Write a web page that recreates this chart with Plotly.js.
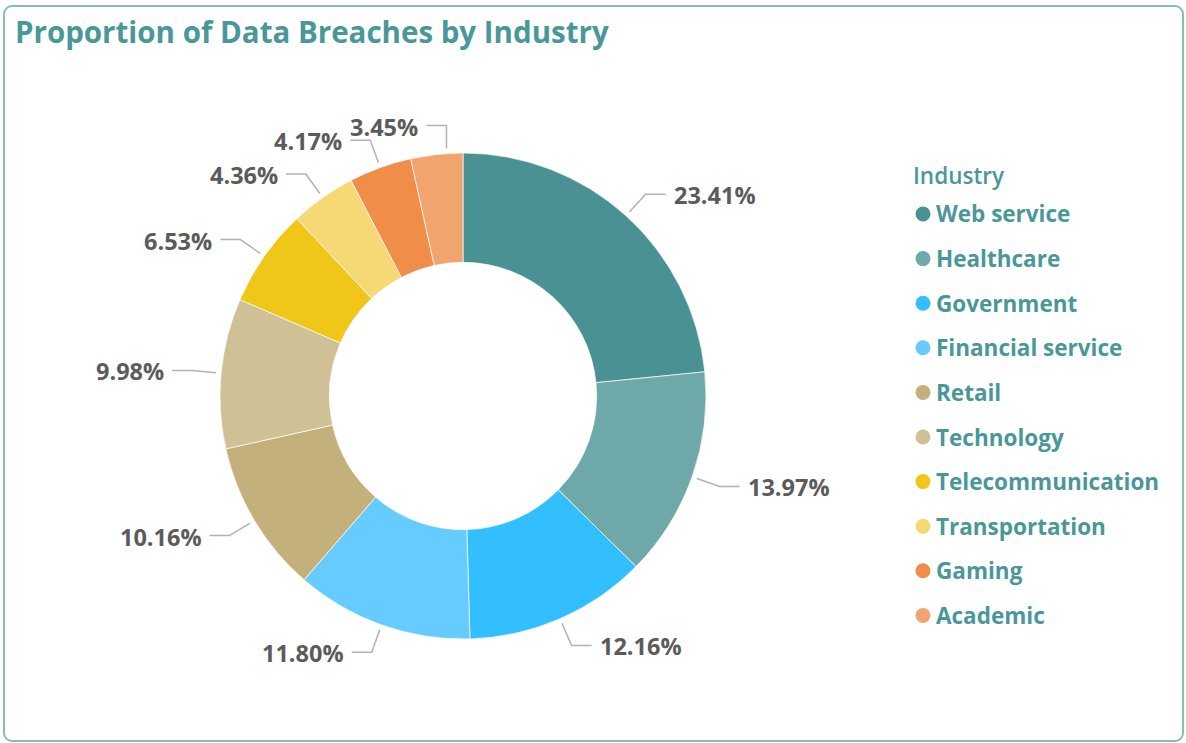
<!DOCTYPE html>
<html>
<head>
<meta charset="utf-8">
<script src="https://cdn.plot.ly/plotly-3.0.1.min.js"></script>
<style>
  html, body { margin: 0; padding: 0; background: #ffffff; }
  #wrap { position: relative; width: 1186px; height: 743px; }
  #chart { width: 1186px; height: 743px; }
  #frame { position: absolute; left: 3px; top: 5px; width: 1177px; height: 733px;
           border: 2px solid #86bcbd; border-radius: 9px; pointer-events: none; }
</style>
</head>
<body>
<div id="wrap"><div id="chart"></div><div id="frame"></div></div>
<script>
// ---- data ----
const categories = ["Web service", "Healthcare", "Government", "Financial service", "Retail",
                    "Technology", "Telecommunication", "Transportation", "Gaming", "Academic"];
const shares = [23.41, 13.97, 12.16, 11.80, 10.16, 9.98, 6.53, 4.36, 4.17, 3.45];
const colors = ["#4a9194", "#6fa8a9", "#33bfff", "#66ccff", "#c4b07b",
                "#cfc095", "#f0c619", "#f6d974", "#f08e49", "#f2a46f"];
const chartTitle = "Proportion of Data Breaches by Industry";
const legendTitle = "Industry";

// ---- layout geometry (pixels) ----
const W = 1186, H = 743;
const CX = 463, CY = 396, R = 243;
const px = x => x / W;
const py = y => 1 - y / H;

const teal = "#4a979a";
const labelColor = "#5b5b5b";
const fontFam = "Open Sans, Noto Sans, sans-serif";
const labelSize = 23.5;

const trace = {
  type: "pie",
  labels: categories,
  values: shares,
  sort: false,
  direction: "clockwise",
  rotation: 0,
  hole: 0.55,
  textinfo: "none",
  marker: { colors: colors, line: { color: "rgba(255,255,255,0.7)", width: 1 } },
  domain: { x: [px(CX - R), px(CX + R)], y: [py(CY + R), py(CY - R)] },
  showlegend: false,
  hoverinfo: "label+percent"
};

// text measuring for label collision avoidance
const ctx = document.createElement("canvas").getContext("2d");
ctx.font = `700 ${labelSize}px "Open Sans"`;
const textW = t => ctx.measureText(t).width;

// leader lines + outside labels computed from the data
const shapes = [];
const annotations = [];
const total = shares.reduce((a, b) => a + b, 0);
const R0 = 248, R1 = 272, SEG = 20, GAP = 6, LH = 24;
let cum = 0;
let prev = null;
shares.forEach((v, i) => {
  const mid = (cum + v / 2) / total * 2 * Math.PI;
  cum += v;
  const s = Math.sin(mid), c = Math.cos(mid);
  let x0 = CX + R0 * s, y0 = CY - R0 * c;
  let x1 = CX + R1 * s, y1 = CY - R1 * c;
  const dir = s >= 0 ? 1 : -1;
  const txt = v.toFixed(2) + "%";
  const w = textW(txt);
  // push label toward the centre line if it collides with the previous one on the same side
  if (prev && prev.dir === dir && Math.abs(prev.y - y1) < LH) {
    if (dir < 0) {
      const need = prev.right + 8 + w + GAP + SEG;
      if (x1 < need) x1 = need;
    } else {
      const need = prev.left - 8 - w - GAP - SEG;
      if (x1 > need) x1 = need;
    }
    if (x1 !== CX + R1 * s) {
      x0 = x1;
      y0 = CY - Math.sign(c || 1) * Math.sqrt(Math.max(R0 * R0 - (x1 - CX) * (x1 - CX), 0));
    }
  }
  const x2 = x1 + dir * SEG;
  const tx = x2 + dir * GAP;
  prev = { dir: dir, y: y1,
           left: dir > 0 ? tx : tx - w,
           right: dir > 0 ? tx + w : tx };
  shapes.push({
    type: "path", xref: "paper", yref: "paper",
    path: `M ${px(x0)} ${py(y0)} L ${px(x1)} ${py(y1)} L ${px(x2)} ${py(y1)}`,
    line: { color: "#b3b3b3", width: 1.5 }
  });
  annotations.push({
    xref: "paper", yref: "paper",
    x: px(tx), y: py(y1 + 1),
    xanchor: dir > 0 ? "left" : "right", yanchor: "middle",
    text: txt, showarrow: false,
    font: { family: fontFam, size: labelSize, color: labelColor, weight: 700 }
  });
});

// legend (title + entries)
const LX = 923, LY0 = 214, LSTEP = 44.6, MR = 7.5;
annotations.push({
  xref: "paper", yref: "paper", x: px(911), y: py(176),
  xanchor: "left", yanchor: "middle", text: legendTitle, showarrow: false,
  font: { family: fontFam, size: 22.5, color: teal, weight: 600 }
});
categories.forEach((cat, i) => {
  const yc = LY0 + i * LSTEP;
  shapes.push({
    type: "circle", xref: "paper", yref: "paper",
    x0: px(LX - MR), x1: px(LX + MR), y0: py(yc + MR), y1: py(yc - MR),
    fillcolor: colors[i], line: { width: 0 }
  });
  annotations.push({
    xref: "paper", yref: "paper", x: px(934), y: py(yc),
    xanchor: "left", yanchor: "middle", text: cat, showarrow: false,
    font: { family: fontFam, size: 22.5, color: teal, weight: 700 }
  });
});

const layout = {
  width: W, height: H,
  margin: { l: 0, r: 0, t: 0, b: 0 },
  paper_bgcolor: "#ffffff",
  title: {
    text: chartTitle,
    x: px(15), xanchor: "left", xref: "container",
    y: py(33), yanchor: "middle", yref: "container",
    font: { family: fontFam, size: 29.5, color: teal, weight: 700 }
  },
  showlegend: false,
  shapes: shapes,
  annotations: annotations
};

Plotly.newPlot("chart", [trace], layout, { displayModeBar: false, staticPlot: true });
</script>
</body>
</html>
